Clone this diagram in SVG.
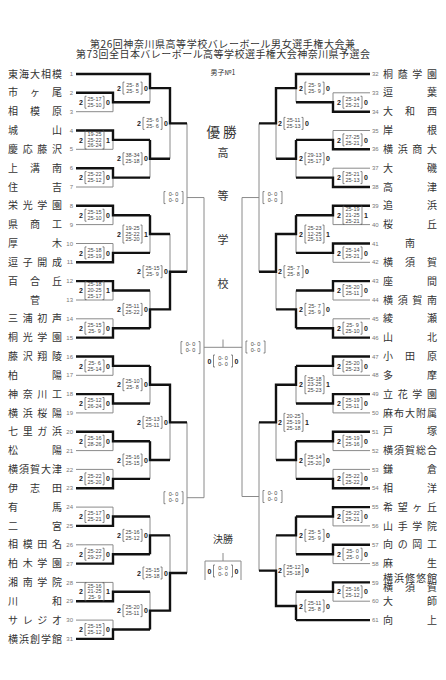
<svg xmlns="http://www.w3.org/2000/svg" width="446" height="680" viewBox="0 0 446 680">
<style>
.n{font-family:"Noto Sans CJK JP",sans-serif;font-size:10px;fill:#333}
.no{font-family:"Liberation Sans",sans-serif;font-size:6px;fill:#777}
.nl{text-anchor:end}
.s{font-family:"Liberation Sans",sans-serif;font-size:5.5px;fill:#444;text-anchor:middle}
.w{font-family:"Liberation Sans",sans-serif;font-size:7px;font-weight:bold;fill:#222}
.b{fill:none;stroke:#555;stroke-width:0.7}
.t{fill:none;stroke:#8a8a8a;stroke-width:1}
.k{fill:none;stroke:#111;stroke-width:2.4}
.c{font-family:"Noto Sans CJK JP",sans-serif;fill:#333;text-anchor:middle}
.ti{font-family:"Noto Sans CJK JP",sans-serif;fill:#333;font-size:10px}
</style>
<defs>
<path id="b2" class="b" d="M7.5,-6H6V6H7.5M23.5,-6H25V6H23.5"/>
<path id="b3" class="b" d="M7.5,-9H6V9H7.5M23.5,-9H25V9H23.5"/>
</defs>
<rect width="446" height="680" fill="#fff"/>
<g id="title">
<text class="ti" x="90" y="47.5" textLength="265">第26回神奈川県高等学校バレーボール男女選手権大会兼</text>
<text class="ti" x="76" y="57.5" textLength="294">第73回全日本バレーボール高等学校選手権大会神奈川県予選会</text>
</g>
<g id="connectors">
<path class="t" d="M76,74H150M76,92.8H113M76,111.7H113M76,130.5H113M76,149.3H113M76,168.2H113M76,187H113M76,205.8H113M76,224.6H113M76,243.5H113M76,262.3H113M76,281.1H113M76,300H113M76,318.8H113M76,337.6H113M76,356.5H113M76,375.3H113M76,394.1H113M76,412.9H113M76,431.8H113M76,450.6H113M76,469.4H113M76,488.3H113M76,507.1H113M76,525.9H113M76,544.8H113M76,563.6H113M76,582.4H113M76,601.2H113M76,620.1H113M76,638.9H113
M113,92.8V111.7M113,102.25H150M113,130.5V149.3M113,139.9H150M113,168.2V187M113,177.6H150M113,205.8V224.6M113,215.2H150M113,243.5V262.3M113,252.9H150M113,281.1V300M113,290.55H150M113,318.8V337.6M113,328.2H150M113,356.5V375.3M113,365.9H150M113,394.1V412.9M113,403.5H150M113,431.8V450.6M113,441.2H150M113,469.4V488.3M113,478.85H150M113,507.1V525.9M113,516.5H150M113,544.8V563.6M113,554.2H150M113,582.4V601.2M113,591.8H150M113,620.1V638.9M113,629.5H150
M150,74V102.25M150,88.1H170M150,139.9V177.6M150,158.75H170M150,215.2V252.9M150,234.05H170M150,290.55V328.2M150,309.4H170M150,365.9V403.5M150,384.7H170M150,441.2V478.85M150,460H170M150,516.5V554.2M150,535.35H170M150,591.8V629.5M150,610.65H170
M170,88.1V158.75M170,123.4H187M170,234.05V309.4M170,271.7H187M170,384.7V460M170,422.35H187M170,535.35V610.65M170,573H187
M187,123.4V271.7M187,197.55H204M187,422.35V573M187,497.7H204M204,197.55V497.7M204,347.3H242M223,347.3V339.5"/>
<path class="t" d="M370,74H296M370,92.8H333M370,111.7H333M370,130.5H333M370,149.3H333M370,168.2H333M370,187H333M370,205.8H333M370,224.6H333M370,243.5H333M370,262.3H333M370,281.1H333M370,300H333M370,318.8H333M370,337.6H333M370,356.5H333M370,375.3H333M370,394.1H333M370,412.9H333M370,431.8H333M370,450.6H333M370,469.4H333M370,488.3H333M370,507.1H333M370,525.9H333M370,544.8H333M370,563.6H333M370,582.4H333M370,601.2H333M370,620.1H296
M333,92.8V111.7M333,102.25H296M333,130.5V149.3M333,139.9H296M333,168.2V187M333,177.6H296M333,205.8V224.6M333,215.2H296M333,243.5V262.3M333,252.9H296M333,281.1V300M333,290.55H296M333,318.8V337.6M333,328.2H296M333,356.5V375.3M333,365.9H296M333,394.1V412.9M333,403.5H296M333,431.8V450.6M333,441.2H296M333,469.4V488.3M333,478.85H296M333,507.1V525.9M333,516.5H296M333,544.8V563.6M333,554.2H296M333,582.4V601.2M333,591.8H296
M296,74V102.25M296,88.1H276M296,139.9V177.6M296,158.75H276M296,215.2V252.9M296,234.05H276M296,290.55V328.2M296,309.4H276M296,365.9V403.5M296,384.7H276M296,441.2V478.85M296,460H276M296,516.5V554.2M296,535.35H276M296,591.8V620.1M296,605.95H276
M276,88.1V158.75M276,123.4H259M276,234.05V309.4M276,271.7H259M276,384.7V460M276,422.35H259M276,535.35V605.95M276,570.65H259
M259,123.4V271.7M259,197.55H242M259,422.35V570.65M259,496.5H242M242,197.55V496.5
M205,580V561H241V580M223,561V553"/>
<path class="k" d="M76,74H150V88.1H170V123.4H187
M76,92.8H113V102.25H150M76,130.5H113V139.9H150M76,168.2H113V177.6H150M76,205.8H113V215.2H150M76,262.3H113V252.9H150M76,281.1H113V290.55H150M76,337.6H113V328.2H150M76,356.5H113V365.9H150M76,394.1H113V403.5H150M76,431.8H113V441.2H150M76,488.3H113V478.85H150M76,525.9H113V516.5H150M76,563.6H113V554.2H150M76,601.2H113V591.8H150M76,638.9H113V629.5H150
M150,139.9V158.75H170M150,215.2V234.05H170M150,328.2V309.4H170V271.7H187M150,365.9V384.7H170V422.35H187M150,441.2V460H170M150,554.2V535.35H170M150,629.5V610.65H170V573H187"/>
<path class="k" d="M370,74H296V88.1H276V123.4H259
M370,111.7H333V102.25H296M370,149.3H333V139.9H296M370,187H333V177.6H296M370,205.8H333V215.2H296M370,243.5H333V252.9H296M370,281.1H333V290.55H296M370,337.6H333V328.2H296M370,356.5H333V365.9H296M370,394.1H333V403.5H296M370,431.8H333V441.2H296M370,488.3H333V478.85H296M370,507.1H333V516.5H296M370,544.8H333V554.2H296M370,582.4H333V591.8H296M370,620.1H296
M296,139.9V158.75H276M296,215.2V234.05H276V271.7H259M296,328.2V309.4H276M296,365.9V384.7H276V422.35H259M296,441.2V460H276M296,516.5V535.35H276M296,620.1V605.95H276V570.65H259"/>
</g>
<g id="center">
<text class="c" x="223" y="74.5" font-size="7">男子№1</text>
<text class="c" x="223" y="137" font-size="13.5" letter-spacing="3">優勝</text>
<text class="c" x="223" y="157" font-size="11">高</text>
<text class="c" x="223" y="200" font-size="11">等</text>
<text class="c" x="223" y="244" font-size="11">学</text>
<text class="c" x="223" y="288" font-size="11">校</text>
<text class="c" x="223" y="543" font-size="10">決勝</text>
</g>
<g id="teams-left">
<g id="t1"><text class="n" x="8" y="77.6" textLength="54">東海大相模</text><text class="no nl" x="73" y="76.1">1</text></g>
<g id="t2"><text class="n" x="8" y="96.4" textLength="54">市ヶ尾</text><text class="no nl" x="73" y="94.9">2</text></g>
<g id="t3"><text class="n" x="8" y="115.3" textLength="54">相模原</text><text class="no nl" x="73" y="113.8">3</text></g>
<g id="t4"><text class="n" x="8" y="134.1" textLength="54">城山</text><text class="no nl" x="73" y="132.6">4</text></g>
<g id="t5"><text class="n" x="8" y="152.9" textLength="54">慶応藤沢</text><text class="no nl" x="73" y="151.4">5</text></g>
<g id="t6"><text class="n" x="8" y="171.8" textLength="54">上溝南</text><text class="no nl" x="73" y="170.3">6</text></g>
<g id="t7"><text class="n" x="8" y="190.6" textLength="54">住吉</text><text class="no nl" x="73" y="189.1">7</text></g>
<g id="t8"><text class="n" x="8" y="209.4" textLength="54">栄光学園</text><text class="no nl" x="73" y="207.9">8</text></g>
<g id="t9"><text class="n" x="8" y="228.2" textLength="54">県商工</text><text class="no nl" x="73" y="226.7">9</text></g>
<g id="t10"><text class="n" x="8" y="247.1" textLength="54">厚木</text><text class="no nl" x="73" y="245.6">10</text></g>
<g id="t11"><text class="n" x="8" y="265.9" textLength="54">逗子開成</text><text class="no nl" x="73" y="264.4">11</text></g>
<g id="t12"><text class="n" x="8" y="284.7" textLength="54">百合丘</text><text class="no nl" x="73" y="283.2">12</text></g>
<g id="t13"><text class="n" x="35" y="303.6" text-anchor="middle">菅</text><text class="no nl" x="73" y="302.1">13</text></g>
<g id="t14"><text class="n" x="8" y="322.4" textLength="54">三浦初声</text><text class="no nl" x="73" y="320.9">14</text></g>
<g id="t15"><text class="n" x="8" y="341.2" textLength="54">桐光学園</text><text class="no nl" x="73" y="339.7">15</text></g>
<g id="t16"><text class="n" x="8" y="360.1" textLength="54">藤沢翔陵</text><text class="no nl" x="73" y="358.6">16</text></g>
<g id="t17"><text class="n" x="8" y="378.9" textLength="54">柏陽</text><text class="no nl" x="73" y="377.4">17</text></g>
<g id="t18"><text class="n" x="8" y="397.7" textLength="54">神奈川工</text><text class="no nl" x="73" y="396.2">18</text></g>
<g id="t19"><text class="n" x="8" y="416.5" textLength="54">横浜桜陽</text><text class="no nl" x="73" y="415">19</text></g>
<g id="t20"><text class="n" x="8" y="435.4" textLength="54">七里ガ浜</text><text class="no nl" x="73" y="433.9">20</text></g>
<g id="t21"><text class="n" x="8" y="454.2" textLength="54">松陽</text><text class="no nl" x="73" y="452.7">21</text></g>
<g id="t22"><text class="n" x="8" y="473" textLength="54">横須賀大津</text><text class="no nl" x="73" y="471.5">22</text></g>
<g id="t23"><text class="n" x="8" y="491.9" textLength="54">伊志田</text><text class="no nl" x="73" y="490.4">23</text></g>
<g id="t24"><text class="n" x="8" y="510.7" textLength="54">有馬</text><text class="no nl" x="73" y="509.2">24</text></g>
<g id="t25"><text class="n" x="8" y="529.5" textLength="54">二宮</text><text class="no nl" x="73" y="528">25</text></g>
<g id="t26"><text class="n" x="8" y="548.4" textLength="54">相模田名</text><text class="no nl" x="73" y="546.9">26</text></g>
<g id="t27"><text class="n" x="8" y="567.2" textLength="54">柏木学園</text><text class="no nl" x="73" y="565.7">27</text></g>
<g id="t28"><text class="n" x="8" y="586" textLength="54">湘南学院</text><text class="no nl" x="73" y="584.5">28</text></g>
<g id="t29"><text class="n" x="8" y="604.8" textLength="54">川和</text><text class="no nl" x="73" y="603.3">29</text></g>
<g id="t30"><text class="n" x="8" y="623.7" textLength="54">サレジオ</text><text class="no nl" x="73" y="622.2">30</text></g>
<g id="t31"><text class="n" x="8" y="642.5" textLength="54">横浜創学館</text><text class="no nl" x="73" y="641">31</text></g>
</g>
<g id="teams-right">
<g id="t32"><text class="no" x="372" y="76.1">32</text><text class="n" x="383" y="77.6" textLength="54">桐蔭学園</text></g>
<g id="t33"><text class="no" x="372" y="94.9">33</text><text class="n" x="383" y="96.4" textLength="54">逗葉</text></g>
<g id="t34"><text class="no" x="372" y="113.8">34</text><text class="n" x="383" y="115.3" textLength="54">大和西</text></g>
<g id="t35"><text class="no" x="372" y="132.6">35</text><text class="n" x="383" y="134.1" textLength="54">岸根</text></g>
<g id="t36"><text class="no" x="372" y="151.4">36</text><text class="n" x="383" y="152.9" textLength="54">横浜商大</text></g>
<g id="t37"><text class="no" x="372" y="170.3">37</text><text class="n" x="383" y="171.8" textLength="54">大磯</text></g>
<g id="t38"><text class="no" x="372" y="189.1">38</text><text class="n" x="383" y="190.6" textLength="54">高津</text></g>
<g id="t39"><text class="no" x="372" y="207.9">39</text><text class="n" x="383" y="209.4" textLength="54">追浜</text></g>
<g id="t40"><text class="no" x="372" y="226.7">40</text><text class="n" x="383" y="228.2" textLength="54">桜丘</text></g>
<g id="t41"><text class="no" x="372" y="245.6">41</text><text class="n" x="410" y="247.1" text-anchor="middle">南</text></g>
<g id="t42"><text class="no" x="372" y="264.4">42</text><text class="n" x="383" y="265.9" textLength="54">横須賀</text></g>
<g id="t43"><text class="no" x="372" y="283.2">43</text><text class="n" x="383" y="284.7" textLength="54">座間</text></g>
<g id="t44"><text class="no" x="372" y="302.1">44</text><text class="n" x="383" y="303.6" textLength="54">横須賀南</text></g>
<g id="t45"><text class="no" x="372" y="320.9">45</text><text class="n" x="383" y="322.4" textLength="54">綾瀬</text></g>
<g id="t46"><text class="no" x="372" y="339.7">46</text><text class="n" x="383" y="341.2" textLength="54">山北</text></g>
<g id="t47"><text class="no" x="372" y="358.6">47</text><text class="n" x="383" y="360.1" textLength="54">小田原</text></g>
<g id="t48"><text class="no" x="372" y="377.4">48</text><text class="n" x="383" y="378.9" textLength="54">多摩</text></g>
<g id="t49"><text class="no" x="372" y="396.2">49</text><text class="n" x="383" y="397.7" textLength="54">立花学園</text></g>
<g id="t50"><text class="no" x="372" y="415">50</text><text class="n" x="383" y="416.5" textLength="54">麻布大附属</text></g>
<g id="t51"><text class="no" x="372" y="433.9">51</text><text class="n" x="383" y="435.4" textLength="54">戸塚</text></g>
<g id="t52"><text class="no" x="372" y="452.7">52</text><text class="n" x="383" y="454.2" textLength="54">横須賀総合</text></g>
<g id="t53"><text class="no" x="372" y="471.5">53</text><text class="n" x="383" y="473" textLength="54">鎌倉</text></g>
<g id="t54"><text class="no" x="372" y="490.4">54</text><text class="n" x="383" y="491.9" textLength="54">相洋</text></g>
<g id="t55"><text class="no" x="372" y="509.2">55</text><text class="n" x="383" y="510.7" textLength="54">希望ヶ丘</text></g>
<g id="t56"><text class="no" x="372" y="528">56</text><text class="n" x="383" y="529.5" textLength="54">山手学院</text></g>
<g id="t57"><text class="no" x="372" y="546.9">57</text><text class="n" x="383" y="548.4" textLength="54">向の岡工</text></g>
<g id="t58"><text class="no" x="372" y="565.7">58</text><text class="n" x="383" y="567.2" textLength="54">麻生</text></g>
<g id="t59"><text class="no" x="372" y="584.5">59</text><text class="n" x="383" y="581.5" font-size="7.5" textLength="54">横浜修悠館</text><text class="n" x="383" y="590.8" font-size="7.5" textLength="54">横須賀</text></g>
<g id="t60"><text class="no" x="372" y="603.3">60</text><text class="n" x="383" y="604.8" textLength="54">大師</text></g>
<g id="t61"><text class="no" x="372" y="622.2">61</text><text class="n" x="383" y="623.7" textLength="54">向上</text></g>
</g>
<g id="scores-left">
<g transform="translate(79,102.25)"><text class="w" y="2.6">2</text><use href="#b2"/><text class="s"><tspan x="15.5" y="-1.3">25-17</tspan><tspan x="15.5" y="4.7">25-10</tspan></text><text class="w" x="27" y="2.6">0</text></g>
<g transform="translate(79,139.9)"><text class="w" y="2.6">2</text><use href="#b3"/><text class="s"><tspan x="15.5" y="-4.2">19-25</tspan><tspan x="15.5" y="1.6">25-22</tspan><tspan x="15.5" y="7.4">26-24</tspan></text><text class="w" x="27" y="2.6">1</text></g>
<g transform="translate(79,177.6)"><text class="w" y="2.6">2</text><use href="#b2"/><text class="s"><tspan x="15.5" y="-1.3">25-22</tspan><tspan x="15.5" y="4.7">25-12</tspan></text><text class="w" x="27" y="2.6">0</text></g>
<g transform="translate(79,215.2)"><text class="w" y="2.6">2</text><use href="#b2"/><text class="s"><tspan x="15.5" y="-1.3">25-15</tspan><tspan x="15.5" y="4.7">25-10</tspan></text><text class="w" x="27" y="2.6">0</text></g>
<g transform="translate(79,252.9)"><text class="w" y="2.6">2</text><use href="#b2"/><text class="s"><tspan x="15.5" y="-1.3">25-18</tspan><tspan x="15.5" y="4.7">25-19</tspan></text><text class="w" x="27" y="2.6">0</text></g>
<g transform="translate(79,290.55)"><text class="w" y="2.6">2</text><use href="#b3"/><text class="s"><tspan x="15.5" y="-4.2">25-18</tspan><tspan x="15.5" y="1.6">20-25</tspan><tspan x="15.5" y="7.4">25-17</tspan></text><text class="w" x="27" y="2.6">1</text></g>
<g transform="translate(79,328.2)"><text class="w" y="2.6">2</text><use href="#b2"/><text class="s"><tspan x="15.5" y="-1.3">25-15</tspan><tspan x="15.5" y="4.7">25- 9</tspan></text><text class="w" x="27" y="2.6">0</text></g>
<g transform="translate(79,365.9)"><text class="w" y="2.6">2</text><use href="#b2"/><text class="s"><tspan x="15.5" y="-1.3">25- 6</tspan><tspan x="15.5" y="4.7">25-14</tspan></text><text class="w" x="27" y="2.6">0</text></g>
<g transform="translate(79,403.5)"><text class="w" y="2.6">2</text><use href="#b2"/><text class="s"><tspan x="15.5" y="-1.3">25-12</tspan><tspan x="15.5" y="4.7">26-24</tspan></text><text class="w" x="27" y="2.6">0</text></g>
<g transform="translate(79,441.2)"><text class="w" y="2.6">2</text><use href="#b2"/><text class="s"><tspan x="15.5" y="-1.3">25-16</tspan><tspan x="15.5" y="4.7">28-26</tspan></text><text class="w" x="27" y="2.6">0</text></g>
<g transform="translate(79,478.85)"><text class="w" y="2.6">2</text><use href="#b2"/><text class="s"><tspan x="15.5" y="-1.3">25-22</tspan><tspan x="15.5" y="4.7">25-20</tspan></text><text class="w" x="27" y="2.6">0</text></g>
<g transform="translate(79,516.5)"><text class="w" y="2.6">2</text><use href="#b2"/><text class="s"><tspan x="15.5" y="-1.3">25-17</tspan><tspan x="15.5" y="4.7">25-21</tspan></text><text class="w" x="27" y="2.6">0</text></g>
<g transform="translate(79,554.2)"><text class="w" y="2.6">2</text><use href="#b2"/><text class="s"><tspan x="15.5" y="-1.3">25-22</tspan><tspan x="15.5" y="4.7">29-27</tspan></text><text class="w" x="27" y="2.6">0</text></g>
<g transform="translate(79,591.8)"><text class="w" y="2.6">2</text><use href="#b3"/><text class="s"><tspan x="15.5" y="-4.2">25-16</tspan><tspan x="15.5" y="1.6">21-25</tspan><tspan x="15.5" y="7.4">25- 9</tspan></text><text class="w" x="27" y="2.6">1</text></g>
<g transform="translate(79,629.5)"><text class="w" y="2.6">2</text><use href="#b2"/><text class="s"><tspan x="15.5" y="-1.3">25-15</tspan><tspan x="15.5" y="4.7">25-12</tspan></text><text class="w" x="27" y="2.6">0</text></g>
<g transform="translate(117,88.1)"><text class="w" y="2.6">2</text><use href="#b2"/><text class="s"><tspan x="15.5" y="-1.3">25- 8</tspan><tspan x="15.5" y="4.7">25- 5</tspan></text><text class="w" x="27" y="2.6">0</text></g>
<g transform="translate(117,158.75)"><text class="w" y="2.6">2</text><use href="#b2"/><text class="s"><tspan x="15.5" y="-1.3">38-34</tspan><tspan x="15.5" y="4.7">25-18</tspan></text><text class="w" x="27" y="2.6">0</text></g>
<g transform="translate(117,234.05)"><text class="w" y="2.6">2</text><use href="#b3"/><text class="s"><tspan x="15.5" y="-4.2">19-25</tspan><tspan x="15.5" y="1.6">25-22</tspan><tspan x="15.5" y="7.4">25-20</tspan></text><text class="w" x="27" y="2.6">1</text></g>
<g transform="translate(117,309.4)"><text class="w" y="2.6">2</text><use href="#b2"/><text class="s"><tspan x="15.5" y="-1.3">25-11</tspan><tspan x="15.5" y="4.7">25-22</tspan></text><text class="w" x="27" y="2.6">0</text></g>
<g transform="translate(117,384.7)"><text class="w" y="2.6">2</text><use href="#b2"/><text class="s"><tspan x="15.5" y="-1.3">25-10</tspan><tspan x="15.5" y="4.7">25- 8</tspan></text><text class="w" x="27" y="2.6">0</text></g>
<g transform="translate(117,460)"><text class="w" y="2.6">2</text><use href="#b2"/><text class="s"><tspan x="15.5" y="-1.3">25-16</tspan><tspan x="15.5" y="4.7">25-15</tspan></text><text class="w" x="27" y="2.6">0</text></g>
<g transform="translate(117,535.35)"><text class="w" y="2.6">2</text><use href="#b2"/><text class="s"><tspan x="15.5" y="-1.3">25-16</tspan><tspan x="15.5" y="4.7">25-12</tspan></text><text class="w" x="27" y="2.6">0</text></g>
<g transform="translate(117,610.65)"><text class="w" y="2.6">2</text><use href="#b2"/><text class="s"><tspan x="15.5" y="-1.3">25-20</tspan><tspan x="15.5" y="4.7">25-11</tspan></text><text class="w" x="27" y="2.6">0</text></g>
<g transform="translate(137,123.4)"><text class="w" y="2.6">2</text><use href="#b2"/><text class="s"><tspan x="15.5" y="-1.3">25- 6</tspan><tspan x="15.5" y="4.7">25- 6</tspan></text><text class="w" x="27" y="2.6">0</text></g>
<g transform="translate(137,271.7)"><text class="w" y="2.6">2</text><use href="#b2"/><text class="s"><tspan x="15.5" y="-1.3">25-15</tspan><tspan x="15.5" y="4.7">25- 9</tspan></text><text class="w" x="27" y="2.6">0</text></g>
<g transform="translate(137,422.35)"><text class="w" y="2.6">2</text><use href="#b2"/><text class="s"><tspan x="15.5" y="-1.3">25-13</tspan><tspan x="15.5" y="4.7">25-11</tspan></text><text class="w" x="27" y="2.6">0</text></g>
<g transform="translate(137,573)"><text class="w" y="2.6">2</text><use href="#b2"/><text class="s"><tspan x="15.5" y="-1.3">25-15</tspan><tspan x="15.5" y="4.7">25-18</tspan></text><text class="w" x="27" y="2.6">0</text></g>
<g transform="translate(158,197.55)"><use href="#b2"/><text class="s"><tspan x="15.5" y="-1.3">0- 0</tspan><tspan x="15.5" y="4.7">0- 0</tspan></text></g>
<g transform="translate(158,497.7)"><use href="#b2"/><text class="s"><tspan x="15.5" y="-1.3">0- 0</tspan><tspan x="15.5" y="4.7">0- 0</tspan></text></g>
<g transform="translate(175,347.6)"><use href="#b2"/><text class="s"><tspan x="15.5" y="-1.3">0- 0</tspan><tspan x="15.5" y="4.7">0- 0</tspan></text></g>
</g>
<g id="scores-right">
<g transform="translate(337,102.25)"><text class="w" y="2.6">2</text><use href="#b2"/><text class="s"><tspan x="15.5" y="-1.3">25-14</tspan><tspan x="15.5" y="4.7">25-21</tspan></text><text class="w" x="27" y="2.6">0</text></g>
<g transform="translate(337,139.9)"><text class="w" y="2.6">2</text><use href="#b2"/><text class="s"><tspan x="15.5" y="-1.3">27-25</tspan><tspan x="15.5" y="4.7">25-21</tspan></text><text class="w" x="27" y="2.6">0</text></g>
<g transform="translate(337,177.6)"><text class="w" y="2.6">2</text><use href="#b2"/><text class="s"><tspan x="15.5" y="-1.3">25-21</tspan><tspan x="15.5" y="4.7">25-13</tspan></text><text class="w" x="27" y="2.6">0</text></g>
<g transform="translate(337,215.2)"><text class="w" y="2.6">2</text><use href="#b3"/><text class="s"><tspan x="15.5" y="-4.2">25-19</tspan><tspan x="15.5" y="1.6">21-25</tspan><tspan x="15.5" y="7.4">25-21</tspan></text><text class="w" x="27" y="2.6">1</text></g>
<g transform="translate(337,252.9)"><text class="w" y="2.6">2</text><use href="#b2"/><text class="s"><tspan x="15.5" y="-1.3">25-14</tspan><tspan x="15.5" y="4.7">25-21</tspan></text><text class="w" x="27" y="2.6">0</text></g>
<g transform="translate(337,290.55)"><text class="w" y="2.6">2</text><use href="#b2"/><text class="s"><tspan x="15.5" y="-1.3">25-20</tspan><tspan x="15.5" y="4.7">25-11</tspan></text><text class="w" x="27" y="2.6">0</text></g>
<g transform="translate(337,328.2)"><text class="w" y="2.6">2</text><use href="#b2"/><text class="s"><tspan x="15.5" y="-1.3">25- 9</tspan><tspan x="15.5" y="4.7">25-10</tspan></text><text class="w" x="27" y="2.6">0</text></g>
<g transform="translate(337,365.9)"><text class="w" y="2.6">2</text><use href="#b2"/><text class="s"><tspan x="15.5" y="-1.3">25-20</tspan><tspan x="15.5" y="4.7">25-23</tspan></text><text class="w" x="27" y="2.6">0</text></g>
<g transform="translate(337,403.5)"><text class="w" y="2.6">2</text><use href="#b2"/><text class="s"><tspan x="15.5" y="-1.3">25-19</tspan><tspan x="15.5" y="4.7">25-11</tspan></text><text class="w" x="27" y="2.6">0</text></g>
<g transform="translate(337,441.2)"><text class="w" y="2.6">2</text><use href="#b2"/><text class="s"><tspan x="15.5" y="-1.3">25-19</tspan><tspan x="15.5" y="4.7">25-16</tspan></text><text class="w" x="27" y="2.6">0</text></g>
<g transform="translate(337,478.85)"><text class="w" y="2.6">2</text><use href="#b2"/><text class="s"><tspan x="15.5" y="-1.3">25-22</tspan><tspan x="15.5" y="4.7">25-22</tspan></text><text class="w" x="27" y="2.6">0</text></g>
<g transform="translate(337,516.5)"><text class="w" y="2.6">2</text><use href="#b2"/><text class="s"><tspan x="15.5" y="-1.3">25-22</tspan><tspan x="15.5" y="4.7">25-21</tspan></text><text class="w" x="27" y="2.6">0</text></g>
<g transform="translate(337,554.2)"><text class="w" y="2.6">2</text><use href="#b2"/><text class="s"><tspan x="15.5" y="-1.3">25- 0</tspan><tspan x="15.5" y="4.7">25- 0</tspan></text><text class="w" x="27" y="2.6">0</text></g>
<g transform="translate(337,591.8)"><text class="w" y="2.6">2</text><use href="#b2"/><text class="s"><tspan x="15.5" y="-1.3">25-16</tspan><tspan x="15.5" y="4.7">25-12</tspan></text><text class="w" x="27" y="2.6">0</text></g>
<g transform="translate(299,88.1)"><text class="w" y="2.6">2</text><use href="#b2"/><text class="s"><tspan x="15.5" y="-1.3">25- 9</tspan><tspan x="15.5" y="4.7">25- 9</tspan></text><text class="w" x="27" y="2.6">0</text></g>
<g transform="translate(299,158.75)"><text class="w" y="2.6">2</text><use href="#b2"/><text class="s"><tspan x="15.5" y="-1.3">29-13</tspan><tspan x="15.5" y="4.7">25-17</tspan></text><text class="w" x="27" y="2.6">0</text></g>
<g transform="translate(299,234.05)"><text class="w" y="2.6">2</text><use href="#b3"/><text class="s"><tspan x="15.5" y="-4.2">25-23</tspan><tspan x="15.5" y="1.6">12-25</tspan><tspan x="15.5" y="7.4">25-13</tspan></text><text class="w" x="27" y="2.6">1</text></g>
<g transform="translate(299,309.4)"><text class="w" y="2.6">2</text><use href="#b2"/><text class="s"><tspan x="15.5" y="-1.3">25- 7</tspan><tspan x="15.5" y="4.7">25- 9</tspan></text><text class="w" x="27" y="2.6">0</text></g>
<g transform="translate(299,384.7)"><text class="w" y="2.6">2</text><use href="#b3"/><text class="s"><tspan x="15.5" y="-4.2">25-18</tspan><tspan x="15.5" y="1.6">23-25</tspan><tspan x="15.5" y="7.4">25-23</tspan></text><text class="w" x="27" y="2.6">1</text></g>
<g transform="translate(299,460)"><text class="w" y="2.6">2</text><use href="#b2"/><text class="s"><tspan x="15.5" y="-1.3">25-14</tspan><tspan x="15.5" y="4.7">25-20</tspan></text><text class="w" x="27" y="2.6">0</text></g>
<g transform="translate(299,535.35)"><text class="w" y="2.6">2</text><use href="#b2"/><text class="s"><tspan x="15.5" y="-1.3">25- 5</tspan><tspan x="15.5" y="4.7">25- 9</tspan></text><text class="w" x="27" y="2.6">0</text></g>
<g transform="translate(299,605.95)"><text class="w" y="2.6">2</text><use href="#b2"/><text class="s"><tspan x="15.5" y="-1.3">25-11</tspan><tspan x="15.5" y="4.7">25- 8</tspan></text><text class="w" x="27" y="2.6">0</text></g>
<g transform="translate(278,123.4)"><text class="w" y="2.6">2</text><use href="#b2"/><text class="s"><tspan x="15.5" y="-1.3">25-11</tspan><tspan x="15.5" y="4.7">25-13</tspan></text><text class="w" x="27" y="2.6">0</text></g>
<g transform="translate(278,271.7)"><text class="w" y="2.6">2</text><use href="#b2"/><text class="s"><tspan x="15.5" y="-1.3">25- 7</tspan><tspan x="15.5" y="4.7">25- 8</tspan></text><text class="w" x="27" y="2.6">0</text></g>
<g transform="translate(278,422.35)"><text class="w" y="2.6">2</text><use href="#b3"/><text class="s"><tspan x="15.5" y="-4.2">20-25</tspan><tspan x="15.5" y="1.6">25-19</tspan><tspan x="15.5" y="7.4">25-18</tspan></text><text class="w" x="27" y="2.6">1</text></g>
<g transform="translate(278,570.65)"><text class="w" y="2.6">2</text><use href="#b2"/><text class="s"><tspan x="15.5" y="-1.3">25-12</tspan><tspan x="15.5" y="4.7">25-18</tspan></text><text class="w" x="27" y="2.6">0</text></g>
<g transform="translate(257,197.55)"><use href="#b2"/><text class="s"><tspan x="15.5" y="-1.3">0- 0</tspan><tspan x="15.5" y="4.7">0- 0</tspan></text></g>
<g transform="translate(257,496.5)"><use href="#b2"/><text class="s"><tspan x="15.5" y="-1.3">0- 0</tspan><tspan x="15.5" y="4.7">0- 0</tspan></text></g>
<g transform="translate(240,347)"><use href="#b2"/><text class="s"><tspan x="15.5" y="-1.3">0- 0</tspan><tspan x="15.5" y="4.7">0- 0</tspan></text></g>
</g>
<g id="final">
<g transform="translate(207.5,361)"><text class="w" y="2.6">0</text><use href="#b2"/><text class="s"><tspan x="15.5" y="-1.3">0- 0</tspan><tspan x="15.5" y="4.7">0- 0</tspan></text><text class="w" x="27" y="2.6">0</text></g>
<g transform="translate(207.5,571)"><text class="w" y="2.6">0</text><use href="#b2"/><text class="s"><tspan x="15.5" y="-1.3">0- 0</tspan><tspan x="15.5" y="4.7">0- 0</tspan></text><text class="w" x="27" y="2.6">0</text></g>
</g>
</svg>
